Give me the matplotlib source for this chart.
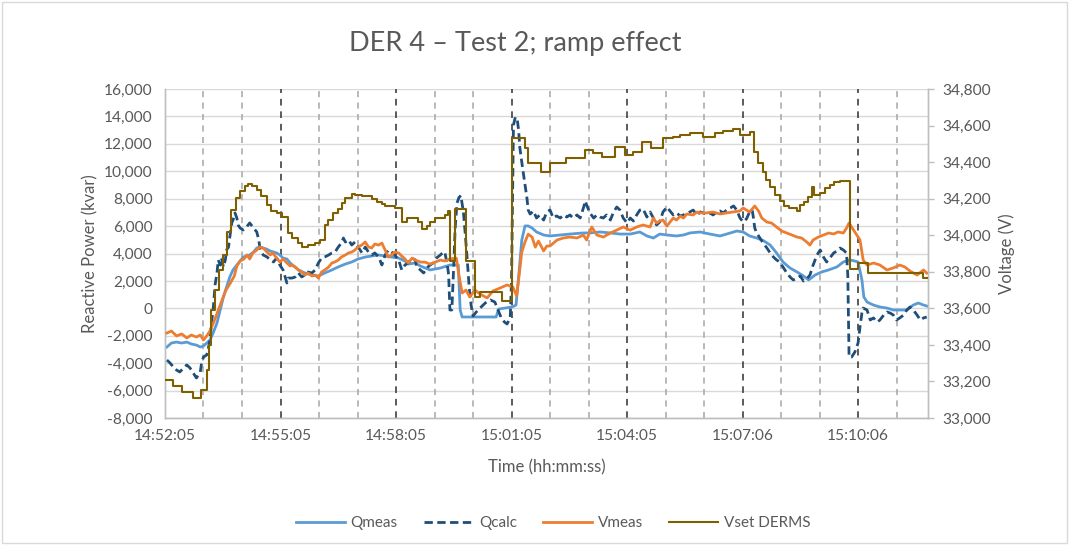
import matplotlib
matplotlib.use("Agg")
import matplotlib.pyplot as plt
from matplotlib.ticker import FuncFormatter
from matplotlib.patches import Rectangle

plt.rcParams['font.family'] = ['Lato', 'DejaVu Sans']

# x axis: seconds since 14:52:05
tick_pos = [0, 180, 360, 540, 720, 900, 1080]
tick_labels = ["14:52:05", "14:55:05", "14:58:05", "15:01:05", "15:04:05", "15:07:06", "15:10:06"]
minute_marks = [60, 120, 240, 300, 420, 480, 600, 660, 780, 840, 960, 1020, 1140]
step_marks = [180, 360, 540, 720, 900, 1080]

# Qmeas (kvar)
q_meas_t = [3, 10, 18, 26, 34, 41, 49, 55, 60, 65, 70, 75, 81, 86, 91, 96, 101, 106, 112, 117,
            122, 127, 132, 138, 143, 148, 153, 158, 164, 169, 174, 179, 184, 190, 195, 208, 218, 229,
            239, 249, 260, 270, 281, 291, 301, 312, 322, 333, 343, 353, 364, 374, 379, 390, 398, 413,
            429, 444, 457, 460, 463, 491, 516, 520, 541, 547, 552, 556, 561, 566, 572, 579, 590, 600,
            616, 631, 652, 662, 678, 694, 709, 725, 740, 751, 761, 771, 782, 797, 808, 818, 834, 849,
            865, 881, 891, 901, 911, 922, 932, 943, 953, 963, 974, 985, 995, 1003, 1013, 1023, 1034,
            1047, 1057, 1067, 1075, 1080, 1086, 1089, 1094, 1104, 1114, 1125, 1135, 1145, 1156, 1166,
            1174, 1182, 1187]
q_meas = [-2820, -2530, -2460, -2530, -2460, -2600, -2680, -2820, -2750, -2530, -2310, -1800, -1070,
          -120, 830, 1560, 2290, 2800, 3160, 3450, 3740, 3820, 3890, 4110, 4400, 4470, 4400, 4330,
          4180, 4110, 4040, 3890, 3670, 3600, 3310, 2800, 2580, 2430, 2360, 2580, 2800, 3020, 3230,
          3380, 3600, 3740, 3820, 3890, 3820, 3740, 3670, 3450, 3230, 3310, 3090, 2800, 2940, 3160,
          3160, -120, -630, -630, -630, -50, 100, 240, 2800, 4990, 6010, 6010, 5860, 5570, 5350,
          5280, 5350, 5420, 5500, 5500, 5570, 5500, 5420, 5420, 5570, 5280, 5130, 5420, 5350, 5280,
          5350, 5500, 5570, 5420, 5280, 5500, 5640, 5570, 5280, 5130, 4950, 4620, 4040, 3380, 2940,
          2650, 2360, 2070, 2430, 2650, 2800, 3020, 3380, 3530, 3450, 3380, 2070, 830, 460, 240, 100,
          20, -120, -120, -120, 240, 390, 240, 170]

# Qcalc (kvar)
q_calc_t = [3, 8, 13, 18, 23, 29, 34, 39, 44, 49, 55, 57, 60, 65, 67, 70, 73, 75, 78, 81, 83, 86,
            88, 91, 94, 96, 99, 101, 104, 106, 109, 112, 114, 117, 122, 127, 132, 138, 143, 146, 148,
            153, 159, 164, 169, 174, 179, 184, 190, 192, 198, 203, 208, 213, 218, 223, 229, 234, 239,
            244, 249, 255, 260, 265, 270, 275, 278, 281, 286, 291, 296, 301, 307, 312, 317, 322, 327,
            333, 338, 343, 348, 353, 358, 364, 369, 374, 379, 385, 390, 392, 398, 403, 408, 413, 418,
            423, 429, 434, 436, 440, 442, 444, 447, 450, 452, 455, 458, 461, 465, 468, 471, 474, 477,
            480, 485, 491, 499, 507, 514, 519, 524, 529, 533, 538, 540, 542, 543, 546, 549, 551, 553,
            557, 560, 564, 566, 569, 574, 579, 584, 590, 595, 600, 605, 610, 616, 621, 626, 631, 636,
            642, 647, 652, 655, 657, 662, 668, 673, 678, 683, 688, 694, 699, 704, 709, 714, 720, 725,
            730, 735, 740, 745, 751, 756, 761, 766, 771, 776, 782, 787, 792, 797, 803, 808, 813, 818,
            823, 829, 834, 839, 844, 849, 854, 860, 865, 870, 875, 881, 886, 891, 896, 901, 906, 911,
            915, 917, 919, 922, 927, 932, 938, 943, 948, 953, 958, 964, 969, 974, 979, 985, 990, 995,
            1000, 1005, 1010, 1016, 1021, 1026, 1031, 1036, 1042, 1047, 1052, 1057, 1062, 1064, 1066,
            1070, 1075, 1080, 1083, 1086, 1088, 1094, 1099, 1104, 1110, 1114, 1120, 1125, 1130, 1135,
            1140, 1145, 1151, 1156, 1161, 1166, 1172, 1177, 1182, 1187]
q_calc = [-3770, -3990, -4280, -4500, -4640, -4350, -4130, -4350, -4720, -5080, -4640, -3990, -3550,
          -3400, -3040, -2310, -850, -120, 1700, 2580, 3530, 3160, 3670, 3020, 3530, 4260, 4470, 5200,
          6230, 6440, 6960, 6590, 6080, 5860, 5720, 5930, 6230, 5860, 5570, 5020, 4400, 3890, 3750,
          3530, 3380, 3670, 3160, 2800, 1850, 2210, 2210, 2290, 2580, 2290, 2430, 2650, 2580, 2800,
          3310, 3670, 3750, 3890, 4040, 4110, 4470, 4770, 5130, 4840, 4990, 4620, 4840, 4470, 4040,
          4470, 4110, 3890, 4040, 3750, 3160, 3890, 4260, 4110, 3890, 3530, 2800, 3160, 3310, 3670,
          3530, 3020, 2800, 2580, 2940, 3160, 3310, 3670, 3890, 4110, 4110, 3160, 2430, -120, -120,
          3160, 5710, 7670, 8080, 8230, 7030, 5350, 3530, 1560, 240, -560, -270, 20, 390, 610, 460,
          -120, -700, -1000, -1140, -700, 2070, 9360, 13370, 13960, 13740, 13010, 11700, 10310, 9360,
          8050, 7170, 6880, 7100, 6590, 6810, 6440, 7030, 7170, 6590, 6740, 6590, 6810, 6660, 6810,
          6590, 6810, 6590, 7320, 7830, 7540, 6960, 6590, 6810, 6660, 6590, 6810, 6440, 7030, 7390,
          7170, 6590, 6230, 6590, 6370, 6810, 7170, 7250, 6660, 7030, 6590, 6080, 6300, 7030, 7390,
          7100, 6810, 6960, 6740, 6810, 6960, 7030, 7170, 6810, 7030, 6960, 6810, 6960, 6810, 7030,
          7100, 6960, 7170, 7320, 7470, 7170, 6590, 6300, 6520, 7030, 7170, 6590, 5860, 5500, 5130,
          4770, 4400, 4040, 3750, 3530, 3380, 2940, 2580, 2290, 2070, 2210, 2360, 1990, 2140, 2430,
          3160, 3890, 4260, 3750, 3380, 3670, 4040, 4180, 4400, 4260, 4040, 2430, -3550, -3550, -3190,
          -2530, -1360, -340, 20, -120, -850, -700, -1000, -850, -490, -270, -340, -490, -850, -700,
          -490, -120, 100, -120, -490, -850, -700, -630]

# Vmeas (V)
v_meas_t = [3, 10, 18, 26, 34, 41, 49, 55, 60, 65, 70, 76, 83, 89, 95, 101, 108, 112, 117, 123,
            128, 132, 137, 143, 148, 153, 159, 164, 168, 175, 179, 184, 190, 195, 198, 203, 208, 213,
            218, 223, 229, 234, 239, 244, 249, 255, 260, 265, 270, 275, 281, 286, 291, 296, 301, 307,
            312, 317, 322, 327, 333, 338, 343, 348, 353, 358, 364, 369, 374, 379, 385, 390, 398, 405,
            413, 421, 429, 436, 444, 454, 458, 463, 469, 475, 483, 491, 502, 511, 522, 533, 542, 548,
            551, 556, 561, 566, 572, 577, 582, 590, 595, 600, 611, 621, 631, 642, 652, 657, 665, 673,
            683, 694, 704, 714, 725, 735, 745, 756, 761, 766, 771, 776, 782, 787, 792, 797, 803, 808,
            813, 823, 829, 834, 844, 854, 865, 875, 885, 896, 901, 906, 911, 919, 925, 930, 938, 945,
            953, 961, 969, 977, 985, 992, 1000, 1005, 1010, 1018, 1026, 1034, 1042, 1049, 1057, 1062,
            1066, 1073, 1078, 1083, 1088, 1094, 1104, 1114, 1125, 1135, 1145, 1153, 1161, 1172, 1182,
            1187]
v_meas = [33465, 33476, 33449, 33460, 33438, 33454, 33443, 33454, 33427, 33449, 33476, 33525, 33591,
          33646, 33700, 33733, 33777, 33832, 33859, 33870, 33892, 33870, 33903, 33919, 33936, 33930,
          33908, 33892, 33903, 33870, 33854, 33870, 33848, 33832, 33837, 33826, 33810, 33799, 33782,
          33793, 33777, 33782, 33766, 33799, 33810, 33826, 33848, 33854, 33864, 33881, 33892, 33903,
          33908, 33919, 33936, 33947, 33963, 33936, 33930, 33952, 33946, 33957, 33919, 33881, 33892,
          33908, 33903, 33886, 33870, 33848, 33875, 33864, 33853, 33853, 33842, 33853, 33864, 33859,
          33870, 33875, 33782, 33684, 33700, 33662, 33700, 33678, 33657, 33695, 33711, 33728, 33717,
          33668, 33755, 33908, 33963, 34006, 33990, 33935, 33968, 33914, 33941, 33941, 33974, 33985,
          33990, 33985, 34001, 33974, 34045, 34001, 33990, 34012, 34028, 34045, 34028, 34045, 34056,
          34045, 34094, 34067, 34078, 34083, 34050, 34072, 34094, 34083, 34105, 34094, 34116, 34111,
          34127, 34122, 34122, 34127, 34116, 34122, 34127, 34133, 34149, 34138, 34127, 34160, 34132,
          34094, 34072, 34067, 34045, 34023, 34012, 34001, 33990, 33985, 33963, 33946, 33974, 33990,
          34001, 34012, 34007, 34018, 34012, 34039, 34067, 34028, 34001, 33974, 33864, 33837, 33848,
          33837, 33810, 33821, 33837, 33826, 33804, 33782, 33810, 33793]

# Vset DERMS (V), stepwise
v_set_t = [0, 12, 26, 44, 56, 65, 68, 72, 78, 84, 90, 97, 103, 111, 117, 125, 129, 136, 143, 150,
           159, 165, 174, 182, 192, 198, 207, 213, 223, 234, 241, 249, 254, 262, 270, 276, 280, 291,
           296, 307, 323, 330, 338, 343, 358, 369, 377, 394, 400, 408, 413, 421, 436, 441, 444, 452,
           469, 483, 491, 525, 541, 561, 566, 586, 600, 625, 654, 667, 681, 701, 717, 729, 743, 757,
           776, 791, 802, 818, 838, 857, 869, 885, 896, 911, 918, 924, 932, 936, 943, 950, 958, 964,
           972, 985, 989, 996, 1002, 1008, 1011, 1020, 1028, 1036, 1042, 1052, 1067, 1080, 1095, 1181,
           1187]
v_set = [33208, 33175, 33142, 33109, 33153, 33263, 33400, 33591, 33700, 33810, 33892, 34018, 34138,
         34204, 34242, 34269, 34280, 34269, 34247, 34215, 34165, 34132, 34122, 34100, 34012, 33985,
         33957, 33936, 33946, 33957, 33974, 34056, 34083, 34122, 34143, 34176, 34204, 34226, 34220,
         34215, 34198, 34182, 34171, 34160, 34149, 34072, 34094, 34072, 34034, 34050, 34072, 34094,
         34110, 34133, 33859, 34143, 33859, 33662, 33689, 33640, 34532, 34477, 34395, 34346, 34395,
         34422, 34466, 34450, 34428, 34483, 34439, 34455, 34510, 34477, 34532, 34537, 34548, 34559,
         34537, 34559, 34570, 34581, 34548, 34565, 34455, 34395, 34346, 34302, 34264, 34220, 34187,
         34160, 34149, 34133, 34165, 34182, 34209, 34264, 34220, 34231, 34258, 34275, 34291, 34297,
         33815, 33848, 33793, 33766, 33766]

grey_txt = '#595959'

fig = plt.figure(figsize=(10.7, 5.45), dpi=100)
fig.patches.append(Rectangle((0.002, 0.004), 0.995, 0.992, transform=fig.transFigure,
                             fill=False, edgecolor='#d9d9d9', linewidth=1))
ax1 = fig.add_axes([0.1542, 0.233, 0.7131, 0.6037])
ax2 = ax1.twinx()

for t in minute_marks:
    ax1.axvline(t, color='#a6a6a6', lw=1.1, ls=(0, (4, 3.5)), zorder=1)
for t in step_marks:
    ax1.axvline(t, color='#404040', lw=1.2, ls=(0, (4, 3.5)), zorder=1)

l1, = ax1.plot(q_meas_t, q_meas, color='#5B9BD5', lw=2.0, label='Qmeas', zorder=3)
l2, = ax1.plot(q_calc_t, q_calc, color='#1F4E79', lw=2.0, ls=(0, (3, 1.6)), label='Qcalc', zorder=4)
l3, = ax2.plot(v_meas_t, v_meas, color='#ED7D31', lw=2.0, label='Vmeas', zorder=3)
l4, = ax2.plot(v_set_t, v_set, color='#7F6000', lw=1.5, drawstyle='steps-post',
               label='Vset DERMS', zorder=4)

ax1.set_xlim(0, 1189)
ax1.set_ylim(-8000, 16000)
ax1.set_yticks(range(-8000, 16001, 2000))
ax2.set_ylim(33000, 34800)
ax2.set_yticks(range(33000, 34801, 200))
fmt = FuncFormatter(lambda v, p: f"{v:,.0f}")
ax1.yaxis.set_major_formatter(fmt)
ax2.yaxis.set_major_formatter(fmt)
ax1.set_xticks(tick_pos)
ax1.set_xticklabels(tick_labels)

ax1.yaxis.grid(True, color='#d9d9d9', lw=1.0, zorder=0)
ax1.set_axisbelow(True)
for ax in (ax1, ax2):
    ax.spines['top'].set_visible(False)
    for s in ('left', 'right', 'bottom'):
        ax.spines[s].set_color('#bfbfbf')
        ax.spines[s].set_linewidth(1.0)
ax1.tick_params(axis='y', length=0, pad=9, labelsize=11.2, labelcolor=grey_txt)
ax1.tick_params(axis='x', length=0, pad=8, labelsize=11.2, labelcolor=grey_txt)
ax2.tick_params(axis='y', length=4, width=1, color='#bfbfbf', pad=6, labelsize=11.2,
                labelcolor=grey_txt)

ax1.set_ylabel('Reactive Power (kvar)', fontsize=12, color=grey_txt, labelpad=4)
ax2.set_ylabel('Voltage (V)', fontsize=12, color=grey_txt, labelpad=6)
ax1.set_xlabel('Time (hh:mm:ss)', fontsize=12, color=grey_txt, labelpad=12)

fig.text(0.482, 0.92, 'DER 4 – Test 2; ramp effect', ha='center', va='center',
         fontsize=19.5, color=grey_txt)

fig.legend(handles=[l1, l2, l3, l4], loc='center', bbox_to_anchor=(0.517, 0.04), ncol=4,
           frameon=False, handlelength=3.2, handletextpad=0.4, columnspacing=1.7,
           fontsize=11, labelcolor=grey_txt)

fig.savefig('out.png', dpi=100)
